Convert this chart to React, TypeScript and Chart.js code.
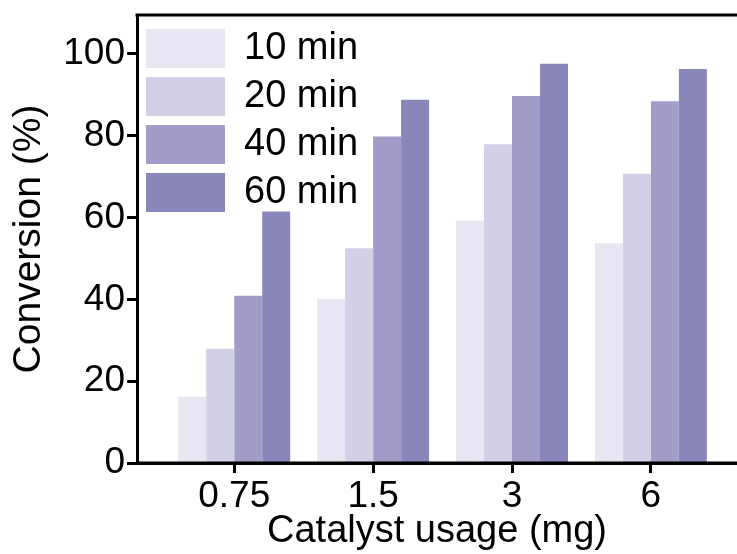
import React, { useEffect, useRef } from "react";
import { Chart, registerables } from "chart.js";

Chart.register(...registerables);

const categories = ["0.75", "1.5", "3", "6"];
const seriesNames = ["10 min", "20 min", "40 min", "60 min"];
const t10 = [16.2, 40.1, 59.2, 53.7];
const t20 = [27.9, 52.5, 77.9, 70.7];
const t40 = [40.9, 79.8, 89.7, 88.4];
const t60 = [61.5, 88.8, 97.6, 96.3];
const seriesColors = ["#E8E6F2", "#D2D0E6", "#A19DC8", "#8986BA"];
const yTicks = [0, 20, 40, 60, 80, 100];

const FONT = "'Liberation Sans', Arial, sans-serif";

const frameLines = {
  id: "frameLines",
  afterDraw(chart: any) {
    const { ctx, chartArea } = chart;
    ctx.save();
    ctx.strokeStyle = "#000";
    ctx.lineWidth = 3;
    ctx.beginPath();
    ctx.moveTo(chartArea.left - 1.5, chartArea.top);
    ctx.lineTo(chart.width, chartArea.top);
    ctx.moveTo(chartArea.left, chartArea.bottom);
    ctx.lineTo(chart.width, chartArea.bottom);
    ctx.stroke();
    ctx.restore();
  },
};

export default function App() {
  const ref = useRef<HTMLCanvasElement>(null);
  useEffect(() => {
    if (!ref.current) return;
    const all = [t10, t20, t40, t60];
    const chart = new Chart(ref.current, {
      type: "bar",
      data: {
        datasets: all.map((vals, i) => ({
          label: seriesNames[i],
          data: vals.map((v, j) => ({ x: j, y: v })),
          backgroundColor: seriesColors[i],
          borderWidth: 0,
          barPercentage: 1,
          categoryPercentage: 0.806,
        })),
      },
      plugins: [frameLines],
      options: {
        animation: false,
        responsive: false,
        maintainAspectRatio: false,
        layout: { padding: { left: 0, top: 15, right: 0, bottom: 0 } },
        plugins: {
          legend: {
            position: "chartArea" as any,
            align: "start",
            title: {
              display: true,
              text: " ",
              font: { family: FONT, size: 20, lineHeight: 1 },
              padding: 0,
            },
            labels: {
              boxWidth: 79,
              boxHeight: 39,
              padding: 9,
              color: "#000",
              font: { family: FONT, size: 38 },
            },
          },
          tooltip: { enabled: false },
        },
        scales: {
          x: {
            type: "linear",
            offset: false,
            min: -0.7,
            max: 3.62,
            afterBuildTicks: (scale: any) => {
              scale.ticks = categories.map((_, i) => ({ value: i }));
            },
            afterFit: (scale: any) => {
              scale.height = 91;
              scale.paddingLeft = 0;
              scale.paddingRight = 0;
            },
            ticks: {
              color: "#000",
              font: { family: FONT, size: 37 },
              padding: 2,
              maxRotation: 0,
              autoSkip: false,
              callback: (v: any) => categories[v as number] ?? "",
            },
            grid: {
              offset: false,
              drawOnChartArea: false,
              drawTicks: true,
              tickLength: 10,
              tickWidth: 3,
              color: "#000",
            },
            border: { display: true, width: 3, color: "#000" },
            title: {
              display: true,
              text: "Catalyst usage (mg)",
              color: "#000",
              font: { family: FONT, size: 38 },
              padding: { top: 0, bottom: 0 },
            },
          },
          y: {
            min: 0,
            max: 109.5,
            afterBuildTicks: (scale: any) => {
              scale.ticks = yTicks.map((v) => ({ value: v }));
            },
            afterFit: (scale: any) => {
              scale.width = 137;
              scale.paddingTop = 0;
              scale.paddingBottom = 0;
            },
            ticks: {
              color: "#000",
              font: { family: FONT, size: 37 },
              padding: 2,
            },
            grid: {
              drawOnChartArea: false,
              drawTicks: true,
              tickLength: 10,
              tickWidth: 3,
              color: "#000",
            },
            border: { display: true, width: 3, color: "#000" },
            title: {
              display: true,
              text: "Conversion (%)",
              color: "#000",
              font: { family: FONT, size: 39 },
              padding: { top: 6, bottom: 0 },
            },
          },
        },
      },
    });
    return () => chart.destroy();
  }, []);
  return (
    <div style={{ position: "fixed", left: 0, top: 0, width: 737, height: 554, background: "#fff" }}>
      <canvas ref={ref} width={737} height={554} style={{ display: "block" }} />
    </div>
  );
}
